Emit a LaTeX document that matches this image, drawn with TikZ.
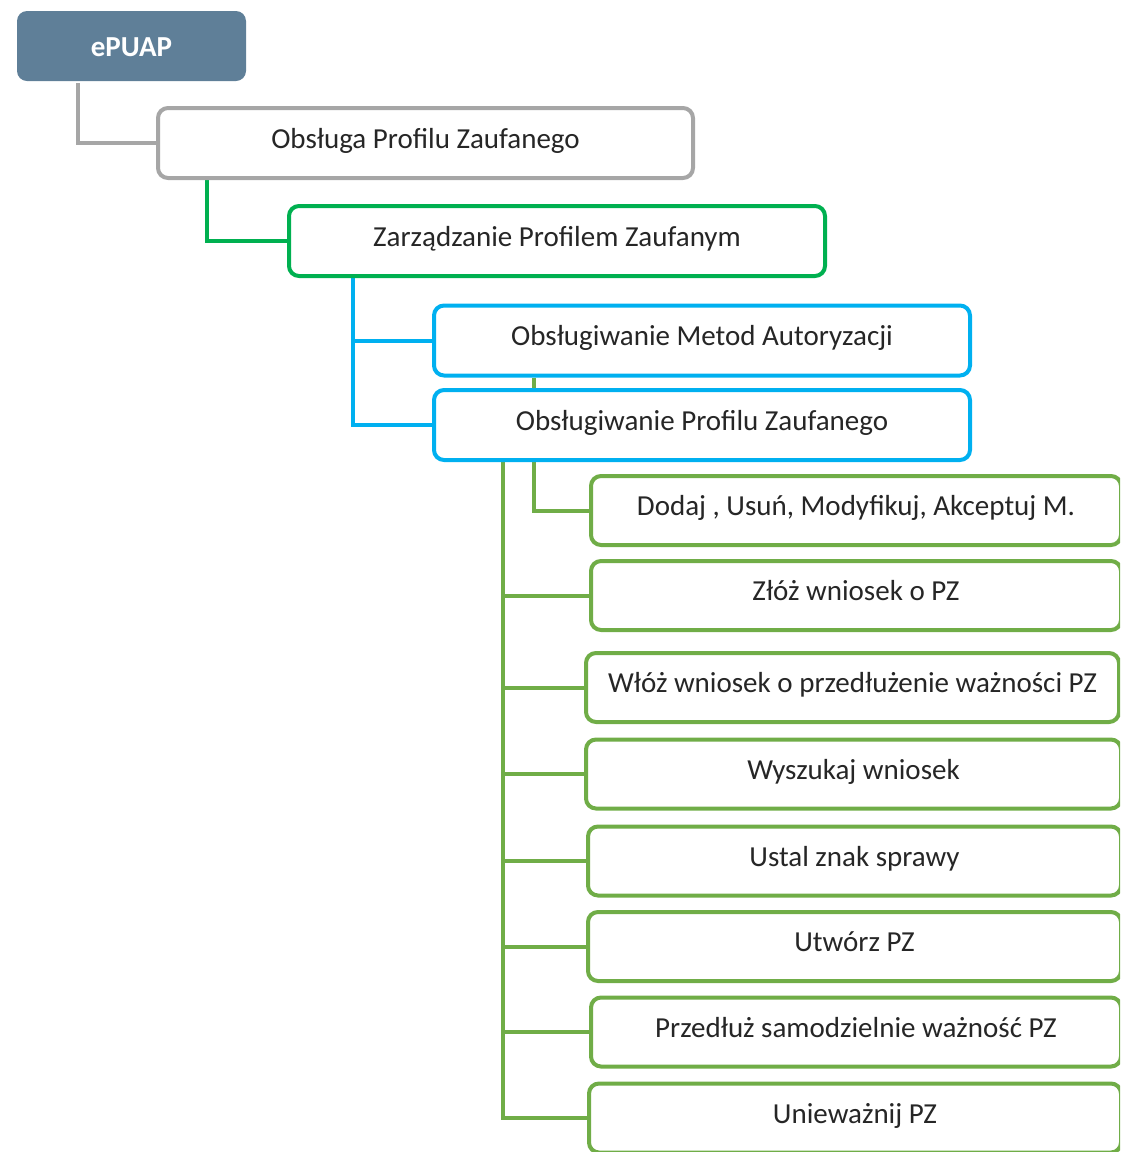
\documentclass[tikz,border=0pt]{standalone}
\usepackage{fontspec}
\setmainfont{Carlito}
\definecolor{slate}{HTML}{5F7F98}
\definecolor{greyline}{HTML}{A6A6A6}
\definecolor{darkgreen}{HTML}{00B050}
\definecolor{skyblue}{HTML}{00B0F0}
\definecolor{leafgreen}{HTML}{70AD47}
\usetikzlibrary{calc,backgrounds}
\tikzset{
  box/.style={draw,fill=white,rounded corners=10pt,line width=4pt,
    minimum height=70pt,text height=20pt,text depth=10pt,
    font=\fontsize{29}{34}\selectfont,text=black!85,align=center},
  box_top/.style={box,draw=none,fill=slate,minimum width=229pt,
    text height=20pt,text depth=0pt,
    font=\fontsize{29}{34}\selectfont\bfseries,text=white},
  box_grey/.style={box,draw=greyline,minimum width=535pt},
  box_green/.style={box,draw=darkgreen,minimum width=536pt},
  box_blue/.style={box,draw=skyblue,minimum width=536pt},
  box_leaf/.style={box,draw=leafgreen,minimum width=530pt,minimum height=69pt},
  link/.style={line width=4pt},
}
\begin{document}
\begin{tikzpicture}[x=1pt,y=-1pt]
  \useasboundingbox (0,0) rectangle (1120,1152);
  \clip (0,0) rectangle (1120,1152);

  \node[box_top] (epuap) at (131.5,46) {ePUAP};
  \node[box_grey] (obsluga) at (425.5,143) {Obsługa Profilu Zaufanego};
  \node[box_green] (zarzadz) at (557,241) {Zarządzanie Profilem Zaufanym};
  \node[box_blue] (metody) at (702,340.5) {Obsługiwanie Metod Autoryzacji};
  \node[box_blue] (profil) at (702,425) {Obsługiwanie Profilu Zaufanego};

  \node[box_leaf] (dodaj) at (856,510.5) {Dodaj , Usuń, Modyfikuj, Akceptuj M.};
  \node[box_leaf] (zloz) at (856,595.5) {Złóż wniosek o PZ};
  \node[box_leaf,minimum width=533pt] (wloz) at (852.5,687.5) {Włóż wniosek o przedłużenie ważności PZ};
  \node[box_leaf,minimum width=535pt] (szukaj) at (853.5,774) {Wyszukaj wniosek};
  \node[box_leaf,minimum width=533pt] (ustal) at (854.5,861) {Ustal znak sprawy};
  \node[box_leaf,minimum width=533pt] (utworz) at (854.5,946.5) {Utwórz PZ};
  \node[box_leaf] (przedluz) at (856,1032) {Przedłuż samodzielnie ważność PZ};
  \node[box_leaf,minimum width=532pt] (uniewaz) at (855,1118) {Unieważnij PZ};

  \begin{pgfonlayer}{background}
    \draw[link,draw=greyline] ($(epuap.south west)+(63,0)$) |- (obsluga.west);
    \draw[link,draw=darkgreen] ($(obsluga.south west)+(51,0)$) |- (zarzadz.west);
    \draw[link,draw=skyblue] ($(zarzadz.south west)+(66,0)$) |- (metody.west);
    \draw[link,draw=skyblue] ($(zarzadz.south west)+(66,0)$) |- (profil.west);
    \draw[link,draw=leafgreen] ($(metody.south west)+(102,0)$) |- (dodaj.west);
    \foreach \leaf in {zloz,wloz,szukaj,ustal,utworz,przedluz,uniewaz}
      \draw[link,draw=leafgreen] ($(profil.south west)+(71,0)$) |- (\leaf.west);
  \end{pgfonlayer}
\end{tikzpicture}
\end{document}
